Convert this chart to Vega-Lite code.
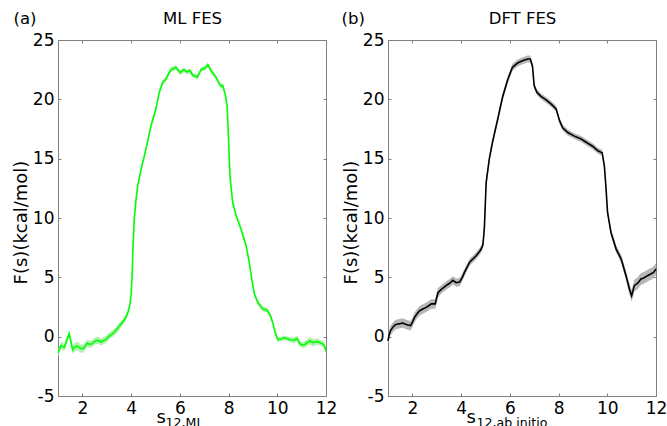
{
  "$schema": "https://vega.github.io/schema/vega-lite/v6.json",
  "padding": {"left": 12, "top": 10, "right": 0, "bottom": 0},
  "spacing": 4,
  "config": {
    "font": "DejaVu Sans",
    "view": {"stroke": null},
    "axis": {
      "domainColor": "#808080",
      "tickColor": "#808080",
      "labelColor": "#000000",
      "titleColor": "#000000",
      "labelFontSize": 17,
      "titleFontSize": 16.5,
      "titleFontWeight": "normal",
      "grid": false,
      "tickSize": -3,
      "labelPadding": 7
    }
  },
  "datasets": {
    "ml": [
      {"s": 1.0, "F": -1.35, "lo": -1.65, "hi": -1.05},
      {"s": 1.12, "F": -0.75, "lo": -1.05, "hi": -0.45},
      {"s": 1.26, "F": -0.9, "lo": -1.2, "hi": -0.6},
      {"s": 1.36, "F": -0.3, "lo": -0.6, "hi": 0.0},
      {"s": 1.46, "F": 0.25, "lo": -0.05, "hi": 0.55},
      {"s": 1.6, "F": -1.1, "lo": -1.45, "hi": -0.75},
      {"s": 1.7, "F": -0.85, "lo": -1.2, "hi": -0.5},
      {"s": 1.8, "F": -0.8, "lo": -1.15, "hi": -0.45},
      {"s": 1.94, "F": -1.0, "lo": -1.35, "hi": -0.65},
      {"s": 2.05, "F": -1.0, "lo": -1.35, "hi": -0.65},
      {"s": 2.19, "F": -0.55, "lo": -0.85, "hi": -0.25},
      {"s": 2.3, "F": -0.65, "lo": -0.95, "hi": -0.35},
      {"s": 2.39, "F": -0.6, "lo": -0.9, "hi": -0.3},
      {"s": 2.5, "F": -0.4, "lo": -0.7, "hi": -0.1},
      {"s": 2.63, "F": -0.3, "lo": -0.6, "hi": 0.0},
      {"s": 2.77, "F": -0.45, "lo": -0.75, "hi": -0.15},
      {"s": 2.9, "F": -0.3, "lo": -0.6, "hi": 0.0},
      {"s": 2.97, "F": -0.25, "lo": -0.55, "hi": 0.05},
      {"s": 3.04, "F": -0.05, "lo": -0.35, "hi": 0.25},
      {"s": 3.2, "F": 0.2, "lo": -0.1, "hi": 0.5},
      {"s": 3.31, "F": 0.37, "lo": 0.07, "hi": 0.67},
      {"s": 3.45, "F": 0.7, "lo": 0.4, "hi": 1.0},
      {"s": 3.58, "F": 1.05, "lo": 0.75, "hi": 1.35},
      {"s": 3.7, "F": 1.35, "lo": 1.1, "hi": 1.6},
      {"s": 3.79, "F": 1.65, "lo": 1.4, "hi": 1.9},
      {"s": 3.88, "F": 2.1, "lo": 1.85, "hi": 2.35},
      {"s": 3.95, "F": 2.7, "lo": 2.45, "hi": 2.95},
      {"s": 4.0, "F": 3.5, "lo": 3.25, "hi": 3.75},
      {"s": 4.04, "F": 5.0, "lo": 4.8, "hi": 5.2},
      {"s": 4.07, "F": 7.1, "lo": 6.9, "hi": 7.3},
      {"s": 4.13, "F": 9.9, "lo": 9.7, "hi": 10.1},
      {"s": 4.2, "F": 11.5, "lo": 11.3, "hi": 11.7},
      {"s": 4.27, "F": 12.7, "lo": 12.5, "hi": 12.9},
      {"s": 4.41, "F": 14.1, "lo": 13.9, "hi": 14.3},
      {"s": 4.61, "F": 15.8, "lo": 15.6, "hi": 16.0},
      {"s": 4.82, "F": 17.8, "lo": 17.6, "hi": 18.0},
      {"s": 5.02, "F": 19.2, "lo": 19.0, "hi": 19.4},
      {"s": 5.16, "F": 20.6, "lo": 20.4, "hi": 20.8},
      {"s": 5.3, "F": 21.45, "lo": 21.25, "hi": 21.65},
      {"s": 5.43, "F": 21.7, "lo": 21.5, "hi": 21.9},
      {"s": 5.55, "F": 22.2, "lo": 22.0, "hi": 22.4},
      {"s": 5.64, "F": 22.5, "lo": 22.3, "hi": 22.7},
      {"s": 5.75, "F": 22.6, "lo": 22.4, "hi": 22.8},
      {"s": 5.84, "F": 22.7, "lo": 22.5, "hi": 22.9},
      {"s": 5.93, "F": 22.45, "lo": 22.25, "hi": 22.65},
      {"s": 6.02, "F": 22.25, "lo": 22.05, "hi": 22.45},
      {"s": 6.1, "F": 22.4, "lo": 22.2, "hi": 22.6},
      {"s": 6.16, "F": 22.5, "lo": 22.3, "hi": 22.7},
      {"s": 6.23, "F": 22.4, "lo": 22.2, "hi": 22.6},
      {"s": 6.3, "F": 22.3, "lo": 22.1, "hi": 22.5},
      {"s": 6.37, "F": 22.4, "lo": 22.2, "hi": 22.6},
      {"s": 6.43, "F": 22.4, "lo": 22.2, "hi": 22.6},
      {"s": 6.5, "F": 22.1, "lo": 21.9, "hi": 22.3},
      {"s": 6.57, "F": 22.0, "lo": 21.8, "hi": 22.2},
      {"s": 6.64, "F": 21.95, "lo": 21.75, "hi": 22.15},
      {"s": 6.71, "F": 21.85, "lo": 21.65, "hi": 22.05},
      {"s": 6.8, "F": 22.2, "lo": 22.0, "hi": 22.4},
      {"s": 6.87, "F": 22.5, "lo": 22.3, "hi": 22.7},
      {"s": 7.0, "F": 22.6, "lo": 22.4, "hi": 22.8},
      {"s": 7.07, "F": 22.7, "lo": 22.5, "hi": 22.9},
      {"s": 7.15, "F": 22.9, "lo": 22.7, "hi": 23.1},
      {"s": 7.22, "F": 22.7, "lo": 22.5, "hi": 22.9},
      {"s": 7.28, "F": 22.4, "lo": 22.2, "hi": 22.6},
      {"s": 7.38, "F": 22.15, "lo": 21.95, "hi": 22.35},
      {"s": 7.49, "F": 21.85, "lo": 21.65, "hi": 22.05},
      {"s": 7.62, "F": 21.3, "lo": 21.1, "hi": 21.5},
      {"s": 7.7, "F": 21.1, "lo": 20.9, "hi": 21.3},
      {"s": 7.76, "F": 21.15, "lo": 20.95, "hi": 21.35},
      {"s": 7.86, "F": 20.45, "lo": 20.25, "hi": 20.65},
      {"s": 7.94, "F": 19.5, "lo": 19.3, "hi": 19.7},
      {"s": 8.0, "F": 16.7, "lo": 16.5, "hi": 16.9},
      {"s": 8.04, "F": 14.5, "lo": 14.3, "hi": 14.7},
      {"s": 8.07, "F": 13.3, "lo": 13.1, "hi": 13.5},
      {"s": 8.17, "F": 11.3, "lo": 11.1, "hi": 11.5},
      {"s": 8.31, "F": 10.2, "lo": 10.0, "hi": 10.4},
      {"s": 8.51, "F": 9.07, "lo": 8.87, "hi": 9.27},
      {"s": 8.72, "F": 7.67, "lo": 7.47, "hi": 7.87},
      {"s": 8.85, "F": 6.27, "lo": 6.07, "hi": 6.47},
      {"s": 8.95, "F": 4.9, "lo": 4.7, "hi": 5.1},
      {"s": 9.06, "F": 3.6, "lo": 3.4, "hi": 3.8},
      {"s": 9.2, "F": 2.9, "lo": 2.7, "hi": 3.1},
      {"s": 9.4, "F": 2.33, "lo": 2.13, "hi": 2.53},
      {"s": 9.58, "F": 2.25, "lo": 2.05, "hi": 2.45},
      {"s": 9.72, "F": 1.77, "lo": 1.57, "hi": 1.97},
      {"s": 9.81, "F": 1.2, "lo": 1.0, "hi": 1.4},
      {"s": 9.91, "F": 0.37, "lo": 0.17, "hi": 0.57},
      {"s": 10.02, "F": -0.25, "lo": -0.45, "hi": -0.05},
      {"s": 10.15, "F": -0.2, "lo": -0.4, "hi": 0.0},
      {"s": 10.29, "F": -0.1, "lo": -0.3, "hi": 0.1},
      {"s": 10.45, "F": -0.2, "lo": -0.4, "hi": 0.0},
      {"s": 10.56, "F": -0.28, "lo": -0.48, "hi": -0.08},
      {"s": 10.7, "F": -0.3, "lo": -0.55, "hi": -0.05},
      {"s": 10.81, "F": -0.15, "lo": -0.4, "hi": 0.1},
      {"s": 10.9, "F": -0.5, "lo": -0.75, "hi": -0.25},
      {"s": 10.97, "F": -0.67, "lo": -0.92, "hi": -0.42},
      {"s": 11.1, "F": -0.7, "lo": -0.95, "hi": -0.45},
      {"s": 11.25, "F": -0.47, "lo": -0.77, "hi": -0.17},
      {"s": 11.35, "F": -0.35, "lo": -0.65, "hi": -0.05},
      {"s": 11.45, "F": -0.5, "lo": -0.8, "hi": -0.2},
      {"s": 11.55, "F": -0.45, "lo": -0.75, "hi": -0.15},
      {"s": 11.66, "F": -0.42, "lo": -0.67, "hi": -0.17},
      {"s": 11.8, "F": -0.55, "lo": -0.8, "hi": -0.3},
      {"s": 11.87, "F": -0.6, "lo": -0.85, "hi": -0.35},
      {"s": 11.95, "F": -0.85, "lo": -1.1, "hi": -0.6},
      {"s": 12.0, "F": -1.2, "lo": -1.45, "hi": -0.95}
    ],
    "dft": [
      {"s": 1.0, "F": -0.35, "lo": -0.7, "hi": 0.0},
      {"s": 1.04, "F": 0.1, "lo": -0.3, "hi": 0.5},
      {"s": 1.1, "F": 0.5, "lo": 0.1, "hi": 0.9},
      {"s": 1.2, "F": 0.8, "lo": 0.4, "hi": 1.2},
      {"s": 1.3, "F": 1.0, "lo": 0.6, "hi": 1.4},
      {"s": 1.41, "F": 1.07, "lo": 0.67, "hi": 1.47},
      {"s": 1.5, "F": 1.1, "lo": 0.7, "hi": 1.5},
      {"s": 1.61, "F": 1.15, "lo": 0.75, "hi": 1.55},
      {"s": 1.72, "F": 1.05, "lo": 0.65, "hi": 1.45},
      {"s": 1.82, "F": 0.99, "lo": 0.59, "hi": 1.39},
      {"s": 1.93, "F": 0.93, "lo": 0.53, "hi": 1.33},
      {"s": 2.0, "F": 1.2, "lo": 0.8, "hi": 1.6},
      {"s": 2.09, "F": 1.63, "lo": 1.23, "hi": 2.03},
      {"s": 2.2, "F": 1.95, "lo": 1.55, "hi": 2.35},
      {"s": 2.3, "F": 2.19, "lo": 1.79, "hi": 2.59},
      {"s": 2.45, "F": 2.35, "lo": 1.95, "hi": 2.75},
      {"s": 2.57, "F": 2.47, "lo": 2.07, "hi": 2.87},
      {"s": 2.7, "F": 2.65, "lo": 2.25, "hi": 3.05},
      {"s": 2.78, "F": 2.76, "lo": 2.36, "hi": 3.16},
      {"s": 2.94, "F": 2.76, "lo": 2.36, "hi": 3.16},
      {"s": 3.0, "F": 3.3, "lo": 2.9, "hi": 3.7},
      {"s": 3.05, "F": 3.7, "lo": 3.3, "hi": 4.1},
      {"s": 3.2, "F": 4.0, "lo": 3.65, "hi": 4.35},
      {"s": 3.32, "F": 4.2, "lo": 3.85, "hi": 4.55},
      {"s": 3.45, "F": 4.4, "lo": 4.05, "hi": 4.75},
      {"s": 3.53, "F": 4.5, "lo": 4.15, "hi": 4.85},
      {"s": 3.66, "F": 4.75, "lo": 4.4, "hi": 5.1},
      {"s": 3.8, "F": 4.55, "lo": 4.2, "hi": 4.9},
      {"s": 3.94, "F": 4.6, "lo": 4.25, "hi": 4.95},
      {"s": 4.05, "F": 5.0, "lo": 4.65, "hi": 5.35},
      {"s": 4.14, "F": 5.42, "lo": 5.12, "hi": 5.72},
      {"s": 4.35, "F": 6.27, "lo": 5.97, "hi": 6.57},
      {"s": 4.62, "F": 6.82, "lo": 6.52, "hi": 7.12},
      {"s": 4.8, "F": 7.3, "lo": 7.0, "hi": 7.6},
      {"s": 4.89, "F": 7.67, "lo": 7.37, "hi": 7.97},
      {"s": 4.93, "F": 8.5, "lo": 8.2, "hi": 8.8},
      {"s": 4.96, "F": 9.35, "lo": 9.05, "hi": 9.65},
      {"s": 5.0, "F": 11.5, "lo": 11.2, "hi": 11.8},
      {"s": 5.03, "F": 13.0, "lo": 12.7, "hi": 13.3},
      {"s": 5.16, "F": 15.0, "lo": 14.7, "hi": 15.3},
      {"s": 5.29, "F": 16.4, "lo": 16.1, "hi": 16.7},
      {"s": 5.5, "F": 18.3, "lo": 18.0, "hi": 18.6},
      {"s": 5.7, "F": 20.17, "lo": 19.87, "hi": 20.47},
      {"s": 5.92, "F": 21.7, "lo": 21.4, "hi": 22.0},
      {"s": 6.11, "F": 22.7, "lo": 22.4, "hi": 23.0},
      {"s": 6.32, "F": 23.06, "lo": 22.76, "hi": 23.36},
      {"s": 6.52, "F": 23.25, "lo": 22.95, "hi": 23.55},
      {"s": 6.73, "F": 23.4, "lo": 23.1, "hi": 23.7},
      {"s": 6.84, "F": 23.4, "lo": 23.1, "hi": 23.7},
      {"s": 6.93, "F": 22.8, "lo": 22.55, "hi": 23.05},
      {"s": 7.0, "F": 21.15, "lo": 20.9, "hi": 21.4},
      {"s": 7.11, "F": 20.6, "lo": 20.35, "hi": 20.85},
      {"s": 7.28, "F": 20.25, "lo": 20.0, "hi": 20.5},
      {"s": 7.49, "F": 19.95, "lo": 19.7, "hi": 20.2},
      {"s": 7.7, "F": 19.6, "lo": 19.35, "hi": 19.85},
      {"s": 7.9, "F": 19.2, "lo": 18.95, "hi": 19.45},
      {"s": 8.04, "F": 18.2, "lo": 17.95, "hi": 18.45},
      {"s": 8.17, "F": 17.6, "lo": 17.35, "hi": 17.85},
      {"s": 8.38, "F": 17.2, "lo": 16.95, "hi": 17.45},
      {"s": 8.65, "F": 16.9, "lo": 16.65, "hi": 17.15},
      {"s": 8.93, "F": 16.66, "lo": 16.41, "hi": 16.91},
      {"s": 9.2, "F": 16.3, "lo": 16.05, "hi": 16.55},
      {"s": 9.4, "F": 16.05, "lo": 15.8, "hi": 16.3},
      {"s": 9.61, "F": 15.67, "lo": 15.42, "hi": 15.92},
      {"s": 9.79, "F": 15.5, "lo": 15.25, "hi": 15.75},
      {"s": 9.88, "F": 14.4, "lo": 14.15, "hi": 14.65},
      {"s": 9.95, "F": 12.45, "lo": 12.2, "hi": 12.7},
      {"s": 10.01, "F": 10.5, "lo": 10.25, "hi": 10.75},
      {"s": 10.15, "F": 8.8, "lo": 8.5, "hi": 9.1},
      {"s": 10.36, "F": 7.4, "lo": 7.1, "hi": 7.7},
      {"s": 10.57, "F": 6.55, "lo": 6.2, "hi": 6.9},
      {"s": 10.77, "F": 5.14, "lo": 4.74, "hi": 5.54},
      {"s": 10.91, "F": 4.0, "lo": 3.55, "hi": 4.45},
      {"s": 11.0, "F": 3.45, "lo": 2.95, "hi": 3.95},
      {"s": 11.11, "F": 4.3, "lo": 3.8, "hi": 4.8},
      {"s": 11.25, "F": 4.5, "lo": 4.0, "hi": 5.0},
      {"s": 11.38, "F": 4.86, "lo": 4.36, "hi": 5.36},
      {"s": 11.5, "F": 4.95, "lo": 4.45, "hi": 5.45},
      {"s": 11.65, "F": 5.14, "lo": 4.64, "hi": 5.64},
      {"s": 11.8, "F": 5.3, "lo": 4.8, "hi": 5.8},
      {"s": 11.9, "F": 5.42, "lo": 4.92, "hi": 5.92},
      {"s": 12.0, "F": 5.7, "lo": 5.2, "hi": 6.2}
    ]
  },
  "hconcat": [
    {
      "width": 268,
      "height": 356,
      "data": {"name": "ml"},
      "layer": [
        {
          "mark": {"type": "area", "color": "#9bef9b", "opacity": 0.8},
          "encoding": {
            "x": {"field": "s", "type": "quantitative", "scale": {"domain": [1, 12], "nice": false, "zero": false},
              "axis": {"orient": "bottom", "values": [2, 4, 6, 8, 10, 12], "labelFlush": false, "title": "s", "titleFontSize": 18, "titleX": 98, "titleY": 26, "titleAlign": "left", "titleBaseline": "alphabetic"}},
            "y": {"field": "lo", "type": "quantitative", "scale": {"domain": [-5, 25], "nice": false, "zero": false},
              "axis": {"orient": "left", "values": [-5, 0, 5, 10, 15, 20, 25], "labelExpr": "'' + datum.value", "title": "F(s)(kcal/mol)", "titleFontSize": 18, "titleX": -37, "titleY": 182, "titleAngle": 270, "titleAlign": "center", "titleBaseline": "middle"}},
            "y2": {"field": "hi"}
          }
        },
        {
          "mark": {"type": "line", "color": "#00ff00", "strokeWidth": 1.6},
          "encoding": {
            "x": {"field": "s", "type": "quantitative", "scale": {"domain": [1, 12], "nice": false, "zero": false},
              "axis": {"orient": "top", "values": [2, 4, 6, 8, 10, 12], "labels": false, "title": "ML FES", "titleX": 134, "titleY": -17, "titleAlign": "center", "titleBaseline": "alphabetic"}},
            "y": {"field": "F", "type": "quantitative", "scale": {"domain": [-5, 25], "nice": false, "zero": false},
              "axis": {"orient": "right", "values": [-5, 0, 5, 10, 15, 20, 25], "labels": false, "title": "(a)", "titleAngle": 0, "titleX": -313, "titleY": -17, "titleAlign": "left", "titleBaseline": "alphabetic"}}
          }
        },
        {
          "mark": {"type": "line", "opacity": 0},
          "encoding": {
            "x": {"field": "s", "type": "quantitative", "scale": {"domain": [1, 12], "nice": false, "zero": false},
              "axis": {"orient": "bottom", "ticks": false, "labels": false, "domain": false, "title": "12,ML", "titleFontSize": 12.6, "titleX": 107, "titleY": 30, "titleAlign": "left", "titleBaseline": "alphabetic"}},
            "y": {"field": "F", "type": "quantitative", "axis": null}
          }
        }
      ],
      "resolve": {"axis": {"x": "independent", "y": "independent"}}
    },
    {
      "width": 268,
      "height": 356,
      "data": {"name": "dft"},
      "layer": [
        {
          "mark": {"type": "area", "color": "#aaaaaa", "opacity": 0.85},
          "encoding": {
            "x": {"field": "s", "type": "quantitative", "scale": {"domain": [1, 12], "nice": false, "zero": false},
              "axis": {"orient": "bottom", "values": [2, 4, 6, 8, 10, 12], "labelFlush": false, "title": "s", "titleFontSize": 18, "titleX": 78, "titleY": 26, "titleAlign": "left", "titleBaseline": "alphabetic"}},
            "y": {"field": "lo", "type": "quantitative", "scale": {"domain": [-5, 25], "nice": false, "zero": false},
              "axis": {"orient": "left", "values": [-5, 0, 5, 10, 15, 20, 25], "labelExpr": "'' + datum.value", "title": "F(s)(kcal/mol)", "titleFontSize": 18, "titleX": -37, "titleY": 182, "titleAngle": 270, "titleAlign": "center", "titleBaseline": "middle"}},
            "y2": {"field": "hi"}
          }
        },
        {
          "mark": {"type": "line", "color": "#000000", "strokeWidth": 1.6},
          "encoding": {
            "x": {"field": "s", "type": "quantitative", "scale": {"domain": [1, 12], "nice": false, "zero": false},
              "axis": {"orient": "top", "values": [2, 4, 6, 8, 10, 12], "labels": false, "title": "DFT FES", "titleX": 134, "titleY": -17, "titleAlign": "center", "titleBaseline": "alphabetic"}},
            "y": {"field": "F", "type": "quantitative", "scale": {"domain": [-5, 25], "nice": false, "zero": false},
              "axis": {"orient": "right", "values": [-5, 0, 5, 10, 15, 20, 25], "labels": false, "title": "(b)", "titleAngle": 0, "titleX": -315, "titleY": -17, "titleAlign": "left", "titleBaseline": "alphabetic"}}
          }
        },
        {
          "mark": {"type": "line", "opacity": 0},
          "encoding": {
            "x": {"field": "s", "type": "quantitative", "scale": {"domain": [1, 12], "nice": false, "zero": false},
              "axis": {"orient": "bottom", "ticks": false, "labels": false, "domain": false, "title": "12,ab initio", "titleFontSize": 12.6, "titleX": 88, "titleY": 30, "titleAlign": "left", "titleBaseline": "alphabetic"}},
            "y": {"field": "F", "type": "quantitative", "axis": null}
          }
        }
      ],
      "resolve": {"axis": {"x": "independent", "y": "independent"}}
    }
  ]
}
